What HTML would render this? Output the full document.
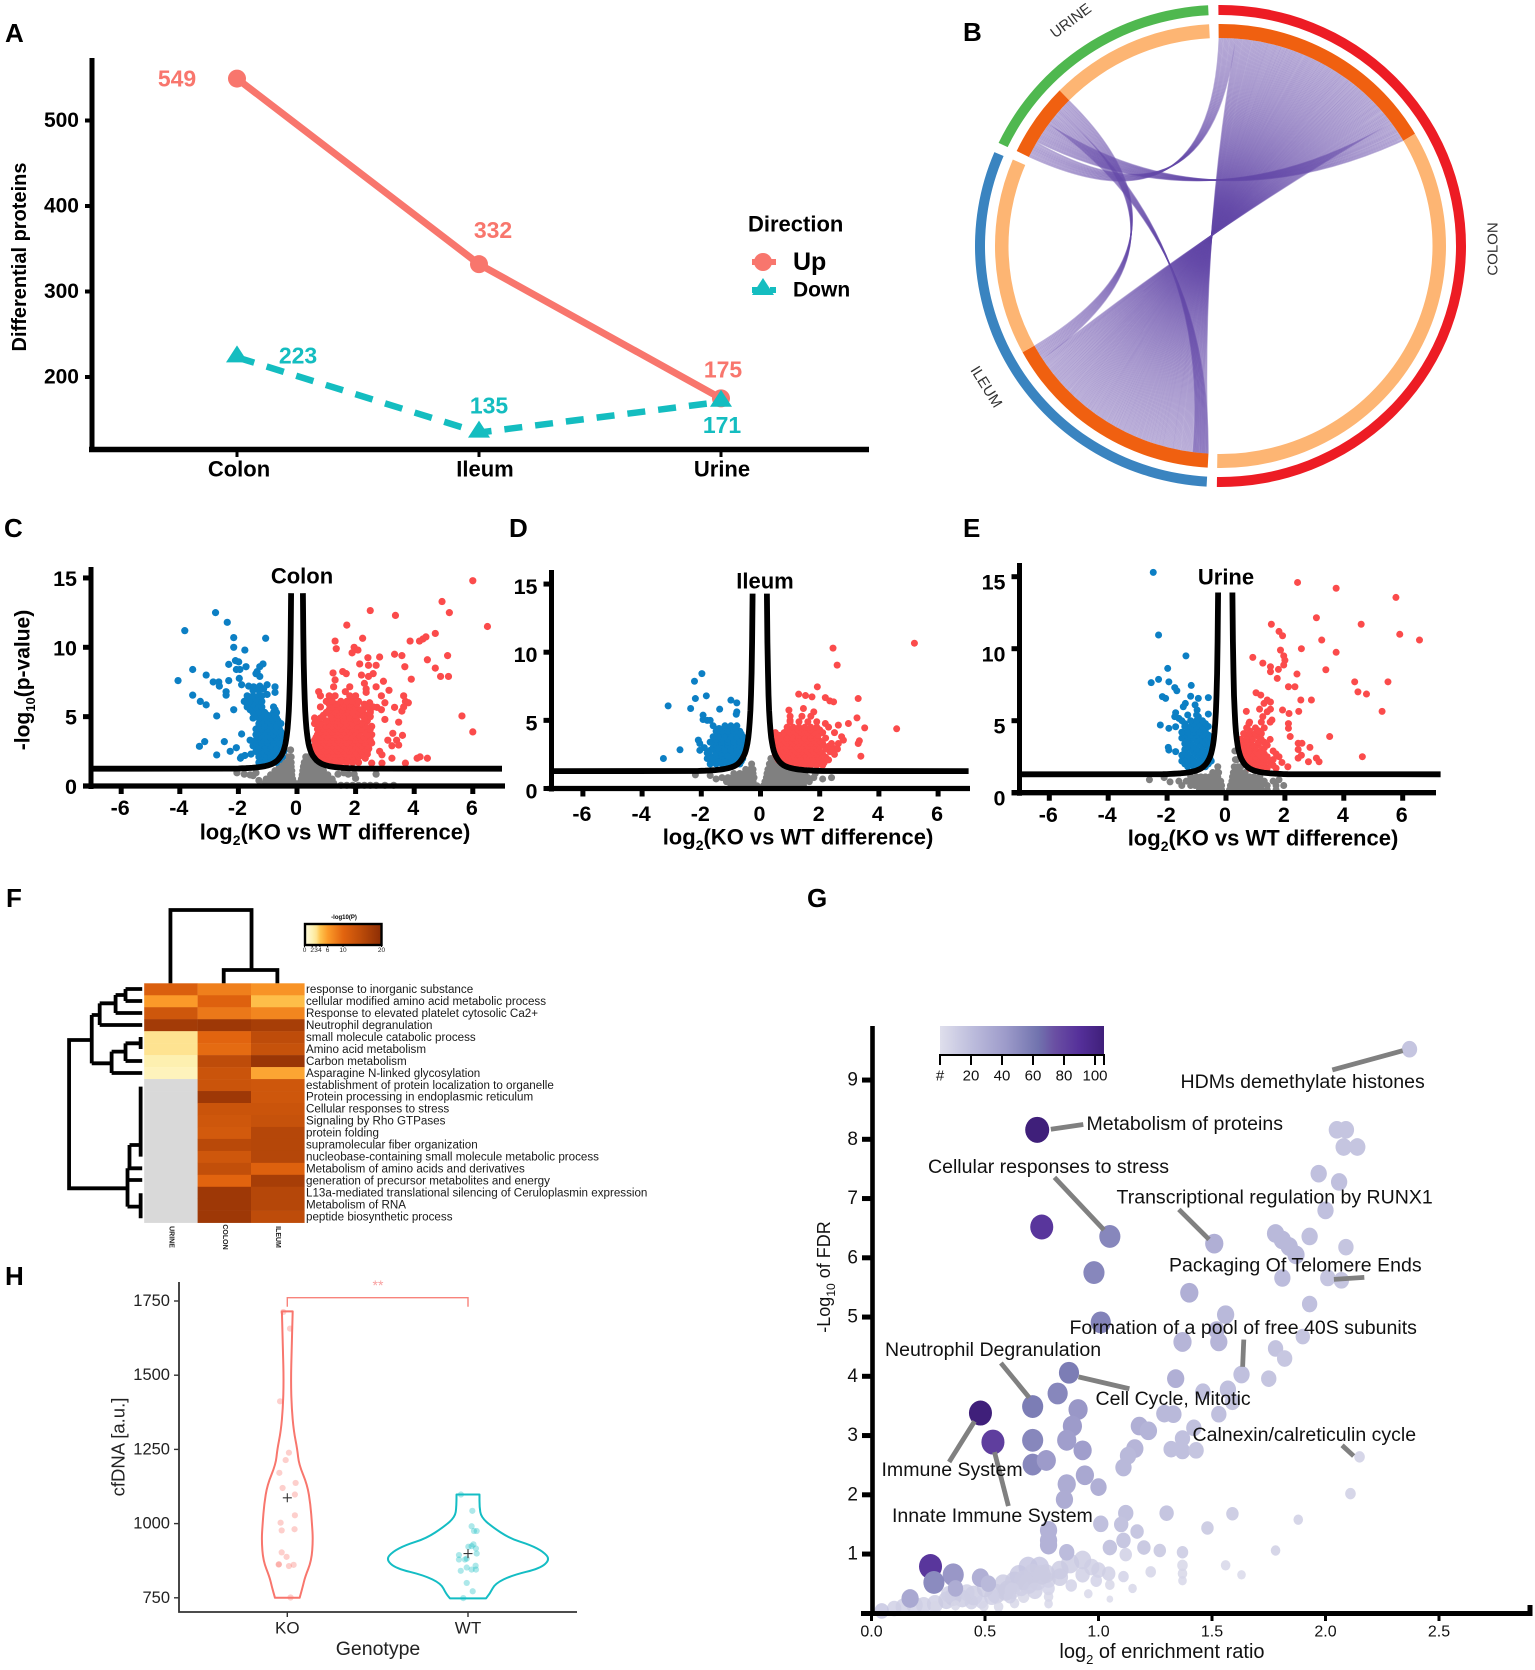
<!DOCTYPE html>
<html lang="en">
<head>
<meta charset="utf-8">
<title>Proteomics multi-panel figure</title>
<style>
html,body{margin:0;padding:0;background:#fff;}
svg{display:block;font-family:"Liberation Sans",sans-serif;}
text{dominant-baseline:central;}
.letter{font-size:26px;font-weight:700;dominant-baseline:auto;fill:#000;}
</style>
</head>
<body>
<svg id="fig" xmlns="http://www.w3.org/2000/svg" width="1535" height="1670" viewBox="0 0 1535 1670">
<rect width="1535" height="1670" fill="#fff"/>
<defs id="defs"></defs>
<text class="letter" x="5" y="42">A</text>
<text class="letter" x="963" y="41">B</text>
<text class="letter" x="4" y="537">C</text>
<text class="letter" x="509" y="537">D</text>
<text class="letter" x="963" y="537">E</text>
<text class="letter" x="6" y="907">F</text>
<text class="letter" x="807" y="907">G</text>
<text class="letter" x="5" y="1285">H</text>

<g id="panel-a">
<text transform="translate(20,257) rotate(-90)" text-anchor="middle" font-size="20" font-weight="700">Differential proteins</text>
<text x="748" y="224" font-size="22" font-weight="700">Direction</text>
<text x="793" y="262" font-size="25" font-weight="700">Up</text>
<text x="793" y="290" font-size="21" font-weight="700">Down</text>
<line x1="752" x2="776" y1="262" y2="262" stroke="#f8766d" stroke-width="6"/>
<circle cx="763" cy="262" r="9" fill="#f8766d"/>
<line x1="752" x2="776" y1="290" y2="290" stroke="#14bdc0" stroke-width="6" stroke-dasharray="6 3"/>
<polygon points="763,278 774,295 752,295" fill="#14bdc0"/>
</g>

<g id="panel-b">
<text transform="translate(1493,249) rotate(-90)" text-anchor="middle" font-size="15" fill="#333">COLON</text>
<text transform="translate(1071,21) rotate(-37)" text-anchor="middle" font-size="15" fill="#333">URINE</text>
<text transform="translate(986,387) rotate(58)" text-anchor="middle" font-size="15" fill="#333">ILEUM</text>
</g>

<g id="panel-c">
<text x="302" y="576" text-anchor="middle" font-size="22" font-weight="700">Colon</text>
<text transform="translate(23,680) rotate(-90)" text-anchor="middle" font-size="21" font-weight="700">-log<tspan baseline-shift="sub" font-size="13">10</tspan>(p-value)</text>
<text x="335" y="832" text-anchor="middle" font-size="22" font-weight="700">log<tspan baseline-shift="sub" font-size="14">2</tspan>(KO vs WT difference)</text>
</g>
<g id="panel-d">
<text x="765" y="581" text-anchor="middle" font-size="22" font-weight="700">Ileum</text>
<text x="798" y="837" text-anchor="middle" font-size="22" font-weight="700">log<tspan baseline-shift="sub" font-size="14">2</tspan>(KO vs WT difference)</text>
</g>
<g id="panel-e">
<text x="1226" y="577" text-anchor="middle" font-size="22" font-weight="700">Urine</text>
<text x="1263" y="838" text-anchor="middle" font-size="22" font-weight="700">log<tspan baseline-shift="sub" font-size="14">2</tspan>(KO vs WT difference)</text>
</g>

<g id="panel-f">
<path transform="translate(50,890) scale(0.3975,0.3333)" vector-effect="non-scaling-stroke" fill="none" stroke="#000" stroke-width="3.8" d="M303 280V60H507V240M437 280V240H572V280"/>
<path transform="translate(50,890) scale(0.3975,0.3333)" vector-effect="non-scaling-stroke" fill="none" stroke="#000" stroke-width="3.8" d="M105 450H48V895H195M105 375V520M105 375H125M105 520H155M125 340V405M125 405H232M125 340H165M165 315V369M165 369H232M165 315H190M190 297V333M190 297H232M190 333H232M155 485V549M155 549H232M155 485H190M190 460V513M190 513H232M190 460H228M228 441V477M195 835V950M195 835H232M200 765V835M200 765H232M195 870H232M195 950H225M228 910V985M228 590V800"/>
<text x="344" y="918" text-anchor="middle" font-size="6" font-weight="700">-log10(P)</text>
</g>

<g id="panel-h">
<text transform="translate(118,1447) rotate(-90)" text-anchor="middle" font-size="18.5" fill="#222">cfDNA [a.u.]</text>
<text x="378" y="1649" text-anchor="middle" font-size="19.5" fill="#222">Genotype</text>
<text x="378" y="1285" text-anchor="middle" font-size="14" fill="#f8a0a0">**</text>
</g>

<g id="panel-g">
<text transform="translate(824,1277) rotate(-90)" text-anchor="middle" font-size="18" fill="#111">-Log<tspan baseline-shift="sub" font-size="12">10</tspan> of FDR</text>
<text x="1162" y="1652" text-anchor="middle" font-size="20" fill="#111">log<tspan baseline-shift="sub" font-size="13">2</tspan> of enrichment ratio</text>
</g>
</svg>

<script>
/* ---------- Panel A data ---------- */
const aCategories=['Colon','Ileum','Urine'];
const aUp=[549,332,175];
const aDown=[223,135,171];
const aYTicks=[200,300,400,500];

/* ---------- Panel B data ---------- */
const sectorNames=['COLON','ILEUM','URINE'];
const sectorCounts=[549,332,187];
const chordSource=[0,0,0,1,1];
const chordTarget=[2,1,2,2,2];
const chordSize=[14,150,18,13,13];
const sectorChordOrder=[[0,1,2],[3,1,4],[0,2,3,4]];

/* ---------- Panels C, D, E data ---------- */
const volcanoXTicks=[-6,-4,-2,0,2,4,6];
const volcanoYTicks=[0,5,10,15];

const colonUpSingles=[[6,14.8],[4.95,13.3],[5.2,12.5],[2.5,12.65],[3.36,12.3],[6.5,11.5],[1.7,11.6],[2.24,10.65],[1.3,10.45],[1.34,9.9],[3.86,10.45],[4.18,10.45],[4.3,10.6],[4.4,10.75],[4.72,11],[1.95,10],[2.08,9.8],[1.88,9.6],[2.42,9.25],[2.82,9.3],[3.33,9.5],[3.58,9.4],[5.14,9.4],[4.45,9.1],[2.14,8.8],[2.44,8.7],[2.7,8.7],[3.68,8.6],[4.72,8.5],[1.23,8.15],[1.56,8.25],[1.68,8.1],[2.2,8],[2.44,7.9],[2.6,8.1],[4.9,7.9],[5.17,7.9],[3.9,7.7],[1.3,7.65],[1.25,7.15],[2.95,7.55],[2.3,7.4],[2.7,7.15],[1.8,7.15],[1.65,6.8],[2.36,7],[2.36,6.75],[3.14,6.9],[.74,6.8],[2.88,6.5],[3.64,6.5],[3.7,6.1],[3.8,6],[3,6],[3.33,5.67],[3.64,5.7],[2.48,6],[2.73,5.67],[2.88,5.5],[3.58,5.4],[5.63,5.05],[3,4.8],[3.47,4.6],[6,3.9],[3.27,3.8],[3.6,3.65],[3.1,3.3],[3.4,3.3],[3.24,2.9],[3.47,2.95],[2.82,2.5],[2.9,2.25],[2.55,1.65],[2.33,2],[3.24,2],[2.9,1.65],[4.1,2],[4.45,2],[3.7,1.65],[4.2,2.1],[2.4,2.3],[2.45,2.7],[2.5,3.1],[2.4,3.5],[2.55,3.7],[2.45,3.9],[2.55,4.3],[2.4,4.7],[2.5,5],[2.35,5.1],[2.25,5.5],[2.5,5.4],[2.3,5.9]];
const colonUpRows=[[1.7,[.9,1.1,1.3,1.5,1.7,1.9,2.1]],[1.9,[.8,1,1.2,1.4,1.6,1.8,2]],[2.1,[.7,.9,1.1,1.3,1.5,1.7,1.9,2.1,2.3]],[2.3,[.65,.85,1.05,1.25,1.45,1.65,1.85,2.05,2.25]],[2.5,[.6,.8,1,1.2,1.4,1.6,1.8,2,2.2,2.4]],[2.7,[.7,.9,1.1,1.3,1.5,1.7,1.9,2.1,2.3]],[2.9,[.6,.8,1,1.2,1.4,1.6,1.8,2,2.2,2.4]],[3.1,[.7,.9,1.1,1.3,1.5,1.7,1.9,2.1,2.3,2.55]],[3.3,[.6,.8,1,1.2,1.4,1.6,1.8,2,2.2,2.5]],[3.5,[.65,.85,1.05,1.25,1.45,1.65,1.85,2.05,2.3]],[3.7,[.7,.9,1.1,1.3,1.5,1.7,1.9,2.1,2.4]],[3.9,[.8,1,1.2,1.4,1.6,1.8,2,2.3]],[4.1,[.7,.9,1.1,1.3,1.5,1.7,1.9,2.2,2.5]],[4.3,[.85,1,1.2,1.4,1.6,1.8,2.05,2.35]],[4.5,[.6,.8,1.1,1.3,1.5,1.7,1.9,2.2]],[4.7,[.7,1,1.2,1.4,1.6,1.8,2.05]],[4.9,[.6,.8,1.2,1.4,1.6,1.8,2,2.3]],[5.1,[.9,1.15,1.4,1.6,1.8,2,2.2]],[5.3,[1,1.3,1.5,1.7,1.9,2.1,2.5]],[5.5,[1.1,1.35,1.55,1.75,1.95,2.2]],[5.7,[.8,1.2,1.4,1.6,1.8,2,2.4,2.6]],[5.9,[1.1,1.35,1.6,1.8,2.05]],[6.1,[1,1.2,1.5,1.7,1.9,2.1]],[6.5,[.8,1.1,1.3,1.8,2]]];
const colonDownSingles=[[-2.78,12.5],[-2.38,11.8],[-3.83,11.2],[-2.16,10.7],[-1.07,10.65],[-2.16,10],[-1.78,9.8],[-2.1,9.04],[-1.99,8.95],[-2.33,8.77],[-1.74,8.6],[-2.07,8.4],[-1.95,8.4],[-3.56,8.4],[-1.16,8.8],[-1.27,8.6],[-1.36,8.25],[-1.4,8.1],[-1.27,7.9],[-3.1,8],[-4.06,7.6],[-2.33,7.6],[-1.97,7.76],[-1.89,7.3],[-2.86,7.5],[-2.67,7.5],[-2.65,7.2],[-1.65,7.2],[-1.48,7.15],[-1.27,7.2],[-1.02,7.3],[-.75,7.15],[-1.14,7],[-.75,6.75],[-1.02,6.6],[-3.56,6.55],[-2.42,6.8],[-2.42,6.55],[-3.3,6.1],[-3.1,5.85],[-2.16,5.5],[-2.74,5.05],[-1.89,3.75],[-3.15,3.2],[-3.33,2.86],[-2.48,3.2],[-2.07,2.76],[-2.28,2.5],[-2.74,2.24],[-1.93,2],[-1.78,2.2],[-1.57,2.3]];
const colonDownRows=[[1.7,[-1.3,-1.1,-.9,-.7]],[1.9,[-1.2,-1,-.8,-.6]],[2.1,[-1.9,-1.3,-1.1,-.9,-.7,-.5]],[2.3,[-1.3,-1.1,-.9,-.7,-.55]],[2.5,[-1.4,-1.2,-1,-.8,-.6,-.45]],[2.7,[-1.3,-1.1,-.9,-.7,-.5]],[2.9,[-1.5,-1.3,-1.1,-.9,-.7,-.5]],[3.1,[-1.4,-1.2,-1,-.8,-.6,-.45]],[3.3,[-1.6,-1.4,-1.2,-1,-.8,-.6,-.45]],[3.5,[-1.3,-1.1,-.9,-.7,-.55]],[3.7,[-1.4,-1.2,-1,-.8,-.6,-.5]],[3.9,[-1.3,-1.1,-.9,-.7,-.55]],[4.1,[-1.4,-1.2,-1,-.8,-.6]],[4.3,[-1.3,-1.1,-.9,-.7]],[4.5,[-1.3,-1.1,-.9,-.7,-.55]],[4.7,[-1.2,-1,-.8,-.65]],[4.9,[-1.5,-1.3,-1.1,-.9,-.7]],[5.1,[-1.4,-1.2,-1,-.75]],[5.3,[-1.5,-1.3,-1.1,-.8,-.7]],[5.5,[-1.6,-1.3,-.75]],[5.7,[-1.7,-1.4,-1.2,-.8]],[5.9,[-1.7,-1.5,-1.3]],[6.1,[-1.8,-1.6,-1.4,-1.2]],[6.3,[-1.6,-1.4]],[6.5,[-1.7,-1.5,-1.3,-1.2]],[6.9,[-1.5,-1.3]]];
const colonNsSingles=[[-2.05,.95],[-1.8,.85],[-1.6,.8],[-1.4,.95],[-1.3,.4],[-1.5,.75],[1.4,.85],[1.6,.95],[1.75,.85],[1.95,.85],[2,.55],[2.7,.85],[1.5,.05],[1.7,.05],[1.9,.05],[2.1,.05],[2.3,.05],[2.5,.05],[2.7,.05],[3,.05],[3.3,.05]];
const colonNsRows=[[.2,[-1.1,-.95,-.8,-.65,-.5,-.35,-.2,-.08,.08,.2,.35,.5,.65,.8,.95,1.1,1.25]],[.5,[-1.05,-.9,-.75,-.6,-.45,-.3,-.15,.15,.3,.45,.6,.75,.9,1.05,1.2]],[.8,[-.9,-.75,-.6,-.45,-.3,-.18,.18,.3,.45,.6,.75,.9,1.05]],[1.1,[-.75,-.6,-.45,-.3,-.18,.2,.32,.45,.6,.75,.9]],[1.4,[-.6,-.45,-.3,-.2,.22,.35,.48,.6,.75]],[1.7,[-.45,-.32,-.2,.25,.38,.5]],[2.1,[-.3,-.2,.3,.4]],[2.6,[-.22]]];

const ileumUpSingles=[[5.2,10.66],[2.45,10.3],[2.59,9.05],[1.92,7.46],[1.29,6.92],[1.52,6.82],[1.74,6.72],[2.19,6.67],[2.34,6.43],[2.47,6.36],[3.3,6.6],[.96,5.75],[1.45,5.87],[1.8,5.62],[3.26,5.18],[1,5],[3.52,4.45],[4.6,4.38],[2.97,4.77],[2.63,4.65],[2.19,4.77],[3.34,3.5],[3.3,3.3],[2.8,3.55],[2.63,3.3],[2.5,2.93],[3.39,2.37],[2.74,3.8]];
const ileumUpRows=[[1.7,[.9,1.1,1.3,1.5,1.7,1.9,2.1]],[1.9,[.7,.9,1.1,1.3,1.5,1.7,1.9,2.15]],[2.1,[.6,.8,1,1.2,1.4,1.6,1.8,2,2.3]],[2.3,[.55,.75,.95,1.15,1.35,1.55,1.75,1.95,2.2]],[2.5,[.5,.7,.9,1.1,1.3,1.5,1.7,1.9,2.1,2.5]],[2.7,[.6,.8,1,1.2,1.4,1.6,1.8,2,2.35]],[2.9,[.5,.7,.9,1.1,1.3,1.5,1.7,1.9,2.2,2.6]],[3.1,[.6,.8,1,1.2,1.4,1.6,1.8,2,2.3]],[3.3,[.5,.7,.9,1.1,1.3,1.5,1.7,1.9,2.1,2.4]],[3.5,[.6,.8,1,1.2,1.4,1.6,1.8,2]],[3.7,[.5,.7,.9,1.1,1.3,1.5,1.7,1.9,2.2]],[3.9,[.65,.9,1.1,1.3,1.5,1.7,1.95]],[4.1,[.5,.8,1,1.2,1.4,1.6,1.8,2.1,2.5]],[4.3,[.9,1.1,1.3,1.5,1.7,2]],[4.5,[.9,1.1,1.3,1.5,1.7,1.9,2.3]],[4.9,[1,1.3,1.6,1.9]],[5.3,[1,1.4,1.7]]];
const ileumDownSingles=[[-1.98,8.43],[-2.23,7.87],[-1.83,6.8],[-2.2,6.6],[-3.12,6.06],[-2.36,5.87],[-1,6.48],[-.8,6.28],[-1.38,5.82],[-.8,5.62],[-.82,5.45],[-1.94,5.38],[-1.94,5.06],[-2.72,2.84],[-3.28,2.2],[-2.1,3.55],[-2.05,3.3],[-2.05,2.8]];
const ileumDownRows=[[1.8,[-1.7,-1.5,-1.3,-1.1,-.9,-.7]],[2,[-1.6,-1.4,-1.2,-1,-.8,-.65]],[2.2,[-1.8,-1.6,-1.4,-1.2,-1,-.8,-.6]],[2.4,[-1.7,-1.5,-1.3,-1.1,-.9,-.7]],[2.6,[-1.8,-1.5,-1.3,-1.1,-.9,-.7,-.55]],[2.8,[-1.7,-1.4,-1.2,-1,-.8,-.65]],[3,[-1.9,-1.6,-1.4,-1.2,-1,-.8,-.6]],[3.2,[-1.5,-1.3,-1.1,-.9,-.7,-.55]],[3.4,[-1.7,-1.5,-1.3,-1.1,-.9,-.7,-.5]],[3.6,[-1.5,-1.3,-1.1,-.9,-.7,-.55]],[3.8,[-1.6,-1.4,-1.2,-1,-.8,-.6]],[4,[-1.4,-1.2,-1,-.8,-.65]],[4.2,[-1.5,-1.3,-1.1,-.9,-.7]],[4.4,[-1.4,-1.1,-.85]],[4.6,[-1.6,-1.2,-1,-.8]],[5,[-1.8,-1.7]]];
const ileumNsSingles=[[-2.2,1],[2.4,.8],[1.85,1.1],[2.1,.7],[-1.5,.7],[-1.7,.95]];
const ileumNsRows=[[.2,[-1,-.85,-.7,-.55,-.4,-.25,-.12,.1,.25,.4,.55,.7,.85,1,1.15,1.3,1.45]],[.5,[-1.15,-1,-.85,-.7,-.55,-.4,-.25,.15,.3,.45,.6,.75,.9,1.05,1.2,1.35,1.5,1.65]],[.8,[-1.3,-1.1,-.95,-.8,-.65,-.5,-.35,-.22,.2,.35,.5,.65,.8,.95,1.1,1.25,1.4,1.6,1.8]],[1.1,[-.9,-.7,-.55,-.4,-.25,.22,.35,.5,.65,.8,.95,1.1,1.3,1.5]],[1.4,[-.5,-.35,-.25,.25,.38,.5,.65,.8]],[1.8,[-.3,.3,.42,.55]],[2.2,[.35,.45]]];

const urineUpSingles=[[2.43,14.6],[3.74,14.2],[5.77,13.56],[3.07,12.15],[1.54,11.7],[4.59,11.7],[1.8,11.2],[1.92,10.9],[5.9,11],[3.25,10.6],[6.57,10.6],[2.56,10],[1.85,9.9],[3.74,9.75],[.91,9.4],[1.96,9.5],[2,9.2],[1.25,9],[1.51,8.75],[1.96,8.87],[3.39,8.54],[1.51,8.4],[1.78,8.56],[2.41,8.24],[1.74,7.94],[4.37,7.7],[5.5,7.7],[2.12,7.36],[2.34,7.36],[4.48,7],[4.77,6.85],[1.02,6.94],[1.18,6.78],[2.54,6.44],[2.9,6.44],[1.4,6.44],[1.51,6.3],[1.29,6.2],[5.3,5.65],[.69,5.65],[1.14,5.8],[1.51,5.8],[1.4,5.62],[2.47,5.65],[1.92,5.74],[2.14,5.5],[1.25,5.28],[1.56,5.05],[.78,4.8],[2.12,4.8],[2.12,4.47],[3.52,3.9],[2.18,3.9],[2.45,3.43],[2.58,3.43],[2.45,3],[2.85,3.15],[2.56,2.6],[2.45,2.4],[3.07,2.4],[2.8,2.15],[3.16,2.15],[4.63,2.5],[2.1,1.8]];
const urineUpRows=[[1.7,[.8,1,1.2,1.4,1.7]],[1.9,[.9,1.1,1.3,1.6]],[2.1,[.7,.9,1.1,1.3,1.5,1.9]],[2.3,[.7,.9,1.1,1.3,1.6]],[2.5,[.6,.8,1,1.2,1.4,1.8]],[2.7,[.7,.9,1.1,1.3,1.7]],[2.9,[.6,.8,1,1.2,1.6]],[3.1,[.6,.8,1,1.3]],[3.3,[.5,.7,.9,1.1,1.4]],[3.5,[.6,.8,1.1,1.3]],[3.7,[.5,.7,.9,1.2,1.5]],[3.9,[.7,.9,1.1]],[4.1,[.6,.8,1,1.2]],[4.3,[.8,1.1]],[4.5,[.7,1,1.3]],[4.9,[.8,1.2,1.5]]];
const urineDownSingles=[[-2.47,15.3],[-2.29,10.95],[-1.36,9.5],[-1.98,8.63],[-2.29,7.87],[-2.54,7.64],[-1.94,7.7],[-1.18,7.45],[-1.74,7.3],[-1.67,7.08],[-2.16,6.67],[-2.05,6.55],[-1.2,6.7],[-.6,6.6],[-.94,6.55],[-1.38,6.2],[-1.05,6.1],[-1.45,5.97],[-.98,5.74],[-1.71,5.55],[-.6,5.46],[-.94,5.28],[-1.6,5.16],[-1.74,5.28],[-2.23,4.7],[-1.94,4.47],[-1.71,4.58],[-1.96,3.15],[-1.94,2.96],[-1.71,2.85]];
const urineDownRows=[[1.8,[-1.3,-1.1,-.9,-.7]],[2,[-1.4,-1.2,-1,-.8,-.6]],[2.2,[-1.5,-1.3,-1.1,-.9,-.7,-.5]],[2.4,[-1.4,-1.2,-.9,-.7,-.55]],[2.6,[-1.5,-1.3,-1,-.8,-.6]],[2.8,[-1.4,-1.1,-.9,-.7]],[3,[-1.4,-1.2,-1,-.8,-.55]],[3.2,[-1.3,-1.1,-.8,-.6]],[3.4,[-1.4,-1.2,-.9,-.7,-.5]],[3.6,[-1.3,-1,-.8,-.6]],[3.8,[-1.5,-1.3,-1.1,-.9,-.7,-.5]],[4,[-1.4,-1.2,-1,-.8,-.6]],[4.2,[-1.5,-1.3,-1.1,-.9,-.7]],[4.4,[-1.3,-1.1,-.9,-.7]],[4.6,[-1.4,-1.2,-1,-.8,-.6]],[4.8,[-1.4,-1.1,-.9,-.7]],[5,[-1.5,-1.2,-1,-.8]],[5.4,[-1.3,-1]]];
const urineNsSingles=[[-2.6,.9],[-2.1,1.05],[-1.9,.75],[1.96,.5],[1.8,.9]];
const urineNsRows=[[.2,[-.9,-.75,-.6,-.45,-.3,-.15,.12,.28,.42,.58,.72,.88,1,1.2,1.4,1.7]],[.5,[-1.5,-1.2,-1.05,-.9,-.75,-.6,-.45,-.3,-.15,.15,.3,.45,.6,.75,.9,1.05,1.2,1.4,1.7]],[.8,[-1.6,-1.35,-1.2,-1.05,-.9,-.75,-.6,-.45,-.3,-.18,.2,.35,.5,.65,.8,.95,1.1,1.3,1.6]],[1.1,[-1.2,-1,-.85,-.7,-.55,-.4,-.28,.22,.35,.5,.65,.8,.95,1.15]],[1.4,[-.45,-.32,-.25,.25,.38,.5,.65]],[1.8,[-.28,.28,.4,.5]],[2.3,[.32,.38]],[2.9,[.3]]];

/* ---------- Panel F data ---------- */
const heatRows=['response to inorganic substance','cellular modified amino acid metabolic process','Response to elevated platelet cytosolic Ca2+','Neutrophil degranulation','small molecule catabolic process','Amino acid metabolism','Carbon metabolism','Asparagine N-linked glycosylation','establishment of protein localization to organelle','Protein processing in endoplasmic reticulum','Cellular responses to stress','Signaling by Rho GTPases','protein folding','supramolecular fiber organization','nucleobase-containing small molecule metabolic process','Metabolism of amino acids and derivatives','generation of precursor metabolites and energy','L13a-mediated translational silencing of Ceruloplasmin expression','Metabolism of RNA','peptide biosynthetic process'];
const heatColumns=['URINE','COLON','ILEUM'];
const heatUrine=[11,6,12.5,17.5,3,3,2,1.5,null,null,null,null,null,null,null,null,null,null,null,null];
const heatColon=[8,10.5,8.5,18,10,9.5,14.5,13,13,18,13,12.5,12,15,12.5,14,10,18,18,18];
const heatIleum=[6.5,4.3,7.5,17,14.5,13.5,18.5,5.5,12.5,12.5,13,13.5,15.5,15.5,15.5,10.5,17,15.5,15.5,14.5];
const heatLegendTicks=[0,2,3,4,6,10,20];

/* ---------- Panel G data: [ratio, fdr, count, size] ---------- */
const gTerms=[[.1,.08,10,7.5],[.14,.11,10,8],[.19,.135,10,8.5],[.23,.135,10,8],[.28,.16,10,8.5],[.33,.22,12,8.5],[.36,.28,12,9],[.4,.25,12,8.5],[.45,.3,12,9.5],[.485,.19,8,6.5],[.55,.33,12,9.5],[.6,.39,12,9.5],[.63,.53,12,10],[.65,.64,14,10],[.69,.78,15,10],[.74,.78,15,10],[.73,.56,12,10],[.69,.5,12,10],[.67,.28,6,6],[.63,.17,6,5],[.56,.11,6,5],[.495,.12,6,5],[.37,.135,6,5],[.28,.12,6,5],[.83,.73,12,9],[.875,.84,12,9.5],[.93,.9,12,9],[.97,.78,10,8],[1,.73,10,7.5],[1.045,.67,10,7],[.93,.65,10,7.5],[.99,.55,8,6],[.88,.47,8,6],[.78,.56,10,7.5],[.78,.42,8,6.5],[.78,.28,6,5],[.78,.16,5,4.5],[.83,.61,12,8.5],[.77,.67,12,9],[.66,.42,10,7.5],[.71,.67,12,9.5],[.67,.56,12,9.5],[.75,.65,12,9.5],[.59,.36,12,8.5],[.53,.28,10,8],[.44,.19,10,7],[.045,.04,15,7.5],[.5,.42,12,8.5],[.58,.5,12,9],[.62,.38,10,8],[.42,.35,10,8],[.34,.32,10,8],[.72,.38,10,8],[.61,.28,10,6.5],
[2.37,9.52,15,8],[.73,8.16,100,12.5],[2.05,8.16,15,8.5],[2.09,8.16,15,8.5],[2.08,7.87,15,8.5],[2.14,7.87,15,8.5],[1.97,7.42,18,8.5],[2.06,7.28,18,8.5],[2,6.8,18,8.5],[.75,6.52,82,12],[1.05,6.36,50,11],[1.51,6.24,28,9.5],[1.78,6.41,22,9],[1.81,6.3,22,9],[1.84,6.19,22,9],[1.87,6.05,22,9],[1.93,6.36,18,8.5],[2.09,6.18,15,8],[1.81,5.66,20,8.5],[2.01,5.66,15,8],[2.07,5.62,15,8],[.98,5.75,50,11],[1.4,5.41,28,9.5],[1.93,5.22,18,8],[1.56,5.04,22,9],[1.01,4.91,52,10.5],[1.52,4.78,24,8.5],[1.37,4.58,24,9.5],[1.53,4.58,24,9],[1.9,4.67,15,7.5],
[1.78,4.47,16,8],[1.82,4.3,14,8],[.87,4.06,55,10.5],[1.63,4.03,18,8.5],[1.75,3.96,15,8],[1.34,3.96,28,9],[.82,3.71,50,10.5],[.71,3.49,55,11],[1.57,3.78,18,8.5],[1.46,3.74,18,8],[1.59,3.57,15,8],[.91,3.44,42,10],[.48,3.38,100,12],[1.29,3.37,22,8.5],[1.33,3.36,22,8.5],[1.53,3.36,18,8],[.885,3.16,40,10],[1.18,3.16,28,9],[1.22,3.08,25,9],[1.42,3.13,17,8],[.86,2.92,38,10],[.71,2.92,50,11],[.535,2.89,78,12],[1.37,2.95,18,8],[1.16,2.78,24,9],[1.32,2.77,18,8],[1.37,2.74,18,8],[1.43,2.75,15,8],[.93,2.75,38,9.5],[1.13,2.66,22,8.5],[2.15,2.64,5,5.5],[.71,2.51,50,10.5],[.77,2.58,40,10],[1.11,2.46,22,8.5],[.94,2.33,32,9.5],[.86,2.18,30,9.5],[1,2.13,28,8.5],[.85,1.92,30,9],[2.11,2.02,5,5.5],[1.12,1.69,17,8],[1.3,1.69,15,7.5],[1.59,1.68,10,6.5],[1.88,1.58,5,5],[1.01,1.51,18,8],[1.1,1.5,16,7.5],[.78,1.4,26,9],[1.48,1.44,10,6.5],[1.17,1.38,14,7],[.78,1.23,26,9],[1.11,1.23,14,7.5],[.78,1.15,26,9],[1.2,1.11,12,7],[1.05,1.11,15,7.5],[1.27,1.06,10,6.5],[1.37,1.03,8,6],[1.78,1.06,5,5],[1.12,.99,10,6.5],[.86,1.03,20,8],[.26,.79,82,12],[1.37,.81,6,5.5],[1.56,.81,5,5],[1.23,.7,7,5.5],[1.63,.65,4,4.5],[1.37,.67,6,5],[1.37,.55,5,4.5],[1.11,.62,8,5.5],[1.15,.42,5,4.5],[1.05,.48,6,5],[1.05,.24,3,3.5],[.955,.33,4,4.5],[.36,.65,42,11],[.275,.52,48,11],[.37,.42,30,8],[.17,.25,32,9],[.48,.6,28,9],[.515,.5,22,8]];
const gLabels=['HDMs demethylate histones','Metabolism of proteins','Cellular responses to stress','Transcriptional regulation by RUNX1','Packaging Of Telomere Ends','Formation of a pool of free 40S subunits','Neutrophil Degranulation','Cell Cycle, Mitotic','Calnexin/calreticulin cycle','Immune System','Innate Immune System'];
const gLeaderStarts=[[2.03,9.17],[.933,8.25],[.806,7.357],[1.354,6.817],[2.171,5.67],[1.64,4.62],[.57,4.225],[1.136,3.79],[2.073,2.835],[.342,2.554],[.603,1.81]];
const gLeaderEnds=[[2.34,9.495],[.79,8.17],[1.024,6.47],[1.487,6.31],[2.037,5.636],[1.635,4.16],[.695,3.64],[.912,3.99],[2.124,2.655],[.454,3.24],[.542,2.72]];
const gXTicks=[0,.5,1,1.5,2,2.5];
const gYTicks=[1,2,3,4,5,6,7,8,9];
const gLegendTicks=[0,20,40,60,80,100];
const gLegendTickLabels=['#','20','40','60','80','100'];

/* ---------- Panel H data ---------- */
const hCategories=['KO','WT'];
const hYTicks=[750,1000,1250,1500,1750];
const koDensityValues=[750,787,820,875,945,1000,1065,1130,1200,1250,1312,1390,1480,1590,1715];
const koDensity=[.48,.6,.69,.94,1,.96,.9,.78,.45,.39,.25,.17,.14,.17,.21];
const wtDensityValues=[748,765,798,826,849,879,905,928,950,990,1022,1056,1098];
const wtDensity=[.22,.27,.33,.54,.88,1,.92,.76,.51,.29,.16,.14,.14];
const koValues=[1713,1657,1412,1239,1214,1171,1137,1120,1098,1028,1003,977,981,903,888,863,862,857,861,751];
const koJitter=[-.022,.015,-.04,.009,-.009,-.044,.046,-.026,.042,.042,-.037,-.031,.04,-.031,-.004,-.046,-.048,.009,.035,.018];
const wtValues=[1098,1043,991,975,975,930,922,924,916,899,894,879,879,882,858,852,845,845,841,800,772,749];
const wtJitter=[-.039,.024,.02,.033,.048,.03,.002,.02,.044,.048,-.05,-.05,-.017,-.007,.042,-.007,.02,.044,-.04,-.007,.026,-.026];
const hMeans=[1087,899];

/* ---------- helpers ---------- */
const NS='http://www.w3.org/2000/svg';
function mk(parent,tag,attrs,txt){
  const e=document.createElementNS(NS,tag);
  for(const k in attrs)e.setAttribute(k,attrs[k]);
  if(txt!==undefined)e.textContent=txt;
  parent.appendChild(e);
  return e;
}
function hex2rgb(h){return [parseInt(h.slice(1,3),16),parseInt(h.slice(3,5),16),parseInt(h.slice(5,7),16)];}
function rampColor(stops,v){
  if(v<=stops[0][0])return stops[0][1];
  for(let i=1;i<stops.length;i++){
    if(v<=stops[i][0]){
      const t=(v-stops[i-1][0])/(stops[i][0]-stops[i-1][0]);
      const a=hex2rgb(stops[i-1][1]),b=hex2rgb(stops[i][1]);
      return 'rgb('+a.map((c,j)=>Math.round(c+(b[j]-c)*t)).join(',')+')';
    }
  }
  return stops[stops.length-1][1];
}
const expandRows=rows=>rows.flatMap(r=>r[1].map(x=>[x,r[0]]));
const defs=document.getElementById('defs');

/* ---------- Panel A ---------- */
(function(){
  const g=document.getElementById('panel-a');
  const ax=i=>237+i*242, ay=v=>120.5+(500-v)*0.855;
  const UP='#f8766d',DOWN='#14bdc0';
  const upLine=mk(g,'polyline',{points:aUp.map((v,i)=>ax(i)+','+ay(v)).join(' '),fill:'none',stroke:UP,'stroke-width':7});
  
  
  const downLine=mk(g,'polyline',{points:aDown.map((v,i)=>ax(i)+','+ay(v)).join(' '),fill:'none',stroke:DOWN,'stroke-width':6.5,'stroke-dasharray':'18 13'});
  
  
  const upDx=[-60,14,2],upDy=[0,-34,-29],downDx=[61,10,1],downDy=[-2,-27,23];
  aUp.forEach((v,i)=>{
    const c=mk(g,'circle',{cx:ax(i),cy:ay(v),r:9,fill:UP});
    
    
    const t=mk(g,'text',{x:ax(i)+upDx[i],y:ay(v)+upDy[i],'text-anchor':'middle','font-size':23,'font-weight':700,fill:UP},v);
    
    
  });
  aDown.forEach((v,i)=>{
    const x=ax(i),y=ay(v);
    const p=mk(g,'polygon',{points:x+','+(y-12)+' '+(x+11)+','+(y+5)+' '+(x-11)+','+(y+5),fill:DOWN});
    
    
    const t=mk(g,'text',{x:x+downDx[i],y:y+downDy[i],'text-anchor':'middle','font-size':23,'font-weight':700,fill:DOWN},v);
    
    
  });
  const yAxis=mk(g,'line',{x1:92,x2:92,y1:58,y2:452,stroke:'#000','stroke-width':5});
  
  
  const xAxis=mk(g,'line',{x1:89,x2:869,y1:449.5,y2:449.5,stroke:'#000','stroke-width':5.5});
  
  
  aYTicks.forEach(v=>{
    const l=mk(g,'line',{x1:85,x2:92,y1:ay(v),y2:ay(v),stroke:'#000','stroke-width':4});
    
    
    const t=mk(g,'text',{x:79,y:ay(v),'text-anchor':'end','font-size':21,'font-weight':700},v);
    
    
  });
  aCategories.forEach((c,i)=>{
    const l=mk(g,'line',{x1:ax(i),x2:ax(i),y1:449,y2:457,stroke:'#000','stroke-width':3});
    
    
    const t=mk(g,'text',{x:ax(i)+[2,6,1][i],y:469,'text-anchor':'middle','font-size':22,'font-weight':700},c);
    
    
  });
})();

/* ---------- Panel B ---------- */
(function(){
  const g=document.getElementById('panel-b');
  const cx=1220.5,cy=246,gap=2.4,rot=-.5;
  const ctrlX=[1211,1200.5,1211,1211,1211],ctrlY=[240,234,228,240,240];
  const total=sectorCounts.reduce((a,b)=>a+b,0);
  const unit=(360-gap*sectorCounts.length)/total;
  const starts=[];let acc=rot;
  sectorCounts.forEach(c=>{starts.push(acc);acc+=c*unit+gap;});
  const pt=(deg,rx,ry)=>{const a=deg*Math.PI/180;return [cx+rx*Math.sin(a),cy-ry*Math.cos(a)];};
  function band(a0,a1,rxo,ryo,rxi,ryi){
    const f=(a1-a0)>180?1:0;
    const A=pt(a0,rxo,ryo),B=pt(a1,rxo,ryo),C=pt(a1,rxi,ryi),D=pt(a0,rxi,ryi);
    return 'M'+A[0]+' '+A[1]+'A'+rxo+' '+ryo+' 0 '+f+' 1 '+B[0]+' '+B[1]+'L'+C[0]+' '+C[1]+'A'+rxi+' '+ryi+' 0 '+f+' 0 '+D[0]+' '+D[1]+'Z';
  }
  const outerColors=['#ed1c24','#3a84c0','#4fb84f'];
  const chordPos=chordSize.map(()=>({}));
  const used=sectorCounts.map(()=>0);
  sectorChordOrder.forEach((order,s)=>{
    order.forEach(ci=>{
      chordPos[ci][s]=used[s];
      used[s]+=chordSize[ci];
    });
  });
  chordSize.forEach((n,ci)=>{
    const s=chordSource[ci],t=chordTarget[ci];
    const grp=mk(g,'g',{fill:'none',stroke:'#6548a8','stroke-width':1.35,'stroke-opacity':.44});
    
    
    let d='';
    /* colon-ileum strands fan across the ileum arc up to its last band */
    const targetStart=ci===1?0:chordPos[ci][t];
    const targetStep=ci===1?(chordPos[ci][t]+n)/n:1;
    for(let k=0;k<n;k++){
      const a=starts[s]+(chordPos[ci][s]+k+.5)*unit;
      const b=starts[t]+(targetStart+(k+.5)*targetStep)*unit;
      const P=pt(a,212,208),Q=pt(b,212,208);
      d+='<path d="M'+P[0].toFixed(1)+' '+P[1].toFixed(1)+'Q'+ctrlX[ci]+' '+ctrlY[ci]+' '+Q[0].toFixed(1)+' '+Q[1].toFixed(1)+'"/>';
    }
    grp.innerHTML=d;
  });
  sectorNames.forEach((nm,s)=>{
    const a0=starts[s],a1=a0+sectorCounts[s]*unit,am=a0+used[s]*unit;
    const o=mk(g,'path',{d:band(a0,a1,245.5,241,235.5,231),fill:outerColors[s]});
    
    
    const sh=mk(g,'path',{d:band(a0,am,225.5,222,212,208),fill:'#f06010'});
    
    
    const un=mk(g,'path',{d:band(am,a1,225.5,222,212,208),fill:'#fdb573'});
    
    
  });
})();

/* ---------- Panels C, D, E ---------- */
function volcano(id,cfg,upS,upR,downS,downR,nsS,nsR){
  const g=document.getElementById(id);
  const X=v=>cfg.x0+v*cfg.xs, Y=v=>cfg.y0-v*cfg.ys;
  const first=g.firstChild;
  const layer=document.createElementNS(NS,'g');
  
  
  g.insertBefore(layer,first);
  nsS.concat(expandRows(nsR)).forEach(p=>{
    const c=mk(layer,'circle',{cx:X(p[0]),cy:Y(p[1]),r:cfg.r,fill:'#808080'});
    
    
  });
  downS.concat(expandRows(downR)).forEach(p=>{
    const c=mk(layer,'circle',{cx:X(p[0]),cy:Y(p[1]),r:cfg.r,fill:'#0c7fc4'});
    
    
  });
  upS.concat(expandRows(upR)).forEach(p=>{
    const c=mk(layer,'circle',{cx:X(p[0]),cy:Y(p[1]),r:cfg.r,fill:'#fb4b4b'});
    
    
  });
  /* significance threshold curve: t0 + c/(|x|-s0)^1.5, tapering flat in the tails */
  function side(sign){
    const edge=sign<0?(cfg.ax-cfg.x0)/cfg.xs:(cfg.thrEnd-cfg.x0)/cfg.xs;
    const pts=[];
    let d=cfg.s0+Math.pow(cfg.c/(cfg.yTop-cfg.t0),2/3);
    while(d<2.2){
      const xv=sign*d+cfg.shift;
      const taper=d<.6?1:Math.max(0,1-(d-.6)/1.6);
      pts.push(X(xv).toFixed(1)+','+Y(cfg.t0+taper*cfg.c/Math.pow(d-cfg.s0,1.5)).toFixed(1));
      d+=Math.max(.012,d*.07);
    }
    pts.push(X(edge).toFixed(1)+','+Y(cfg.t0).toFixed(1));
    const l=mk(layer,'polyline',{points:pts.join(' '),fill:'none',stroke:'#000','stroke-width':5.8,'stroke-linejoin':'round'});
    
    
  }
  side(-1);side(1);
  const ya=mk(layer,'line',{x1:cfg.ax,x2:cfg.ax,y1:cfg.top,y2:cfg.y0+3,stroke:'#000','stroke-width':5});
  
  
  const xa=mk(layer,'line',{x1:cfg.xStart,x2:cfg.xEnd,y1:cfg.y0,y2:cfg.y0,stroke:'#000','stroke-width':5.3});
  
  
  volcanoXTicks.forEach(v=>{
    const l=mk(layer,'line',{x1:X(v),x2:X(v),y1:cfg.y0,y2:cfg.y0+8,stroke:'#000','stroke-width':5});
    
    
    const t=mk(layer,'text',{x:X(v)-1,y:cfg.xLabelY,'text-anchor':'middle','font-size':21.5,'font-weight':700},v);
    
    
  });
  volcanoYTicks.forEach(v=>{
    const l=mk(layer,'line',{x1:cfg.ax-8,x2:cfg.ax,y1:Y(v),y2:Y(v),stroke:'#000','stroke-width':5});
    
    
    const t=mk(layer,'text',{x:cfg.ax-14,y:Y(v)+cfg.yLabelDy,'text-anchor':'end','font-size':21.5,'font-weight':700},v);
    
    
  });
}
volcano('panel-c',{x0:297,xs:29.3,y0:786,ys:13.87,ax:91,top:567,xStart:83,xEnd:505,thrEnd:502,r:3.6,c:.25,s0:.127,t0:1.25,yTop:13.9,shift:0,xLabelY:808,yLabelDy:1},colonUpSingles,colonUpRows,colonDownSingles,colonDownRows,colonNsSingles,colonNsRows);
volcano('panel-d',{x0:760.5,xs:29.6,y0:788.5,ys:13.63,ax:551.5,top:570,xStart:547.5,xEnd:970,thrEnd:968.6,r:3.5,c:.25,s0:.17,t0:1.28,yTop:14.3,shift:-.025,xLabelY:814,yLabelDy:3},ileumUpSingles,ileumUpRows,ileumDownSingles,ileumDownRows,ileumNsSingles,ileumNsRows);
volcano('panel-e',{x0:1226,xs:29.45,y0:792.7,ys:14.4,ax:1019.5,top:563,xStart:1011.5,xEnd:1436,thrEnd:1440.6,r:3.5,c:.25,s0:.17,t0:1.28,yTop:13.9,shift:-.025,xLabelY:815,yLabelDy:6},urineUpSingles,urineUpRows,urineDownSingles,urineDownRows,urineNsSingles,urineNsRows);

/* ---------- Panel F ---------- */
(function(){
  const g=document.getElementById('panel-f');
  const stops=[[0,'#fffce0'],[2,'#fdf0b0'],[3,'#fee391'],[4,'#fec44f'],[6,'#fb9a29'],[10,'#e2640f'],[14,'#c24f0a'],[20,'#8c2d04']];
  const hx=c=>144.2+c*53.4, hy=r=>983.3+r*11.97;
  const cols=[heatUrine,heatColon,heatIleum];
  cols.forEach((vals,c)=>{
    vals.forEach((v,r)=>{
      const cell=mk(g,'rect',{x:hx(c),y:hy(r),width:53.6,height:12.2,fill:v===null?'#d9d9d9':rampColor(stops,v)});
      
      
    });
    const t=mk(g,'text',{transform:'translate('+(hx(c)+26.7)+',1237) rotate(90)','text-anchor':'middle','font-size':7,'font-weight':700,fill:'#222'},heatColumns[c]);
    
    
  });
  heatRows.forEach((name,r)=>{
    const t=mk(g,'text',{x:306,y:hy(r)+6.2,'font-size':11.62,fill:'#1a1a1a'},name);
    
    
  });
  const grad=mk(defs,'linearGradient',{id:'heatGrad',x1:0,x2:1,y1:0,y2:0});
  stops.forEach(s=>{mk(grad,'stop',{offset:s[0]/20,'stop-color':s[1]});});
  const bar=mk(g,'rect',{x:305,y:924,width:76.5,height:21,fill:'url(#heatGrad)',stroke:'#000','stroke-width':2.4});
  
  
  heatLegendTicks.forEach(v=>{
    const x=304.5+3.85*v;
    const l=mk(g,'line',{x1:x,x2:x,y1:945,y2:947,stroke:'#000','stroke-width':1});
    
    
    const t=mk(g,'text',{x:x,y:950.5,'text-anchor':'middle','font-size':6.5,fill:'#222'},v);
    
    
  });
})();

/* ---------- Panel G ---------- */
(function(){
  const g=document.getElementById('panel-g');
  const X=v=>871.5+v*227, Y=v=>1613.3-v*59.25;
  const stops=[[0,'#dfdfec'],[20,'#bcbcdc'],[40,'#9d9bca'],[60,'#7173ae'],[70,'#6a4fa3'],[85,'#55309a'],[100,'#3f1f7a']];
  gTerms.forEach(p=>{
    const c=mk(g,'ellipse',{cx:X(p[0]),cy:Y(p[1]),rx:p[3]*.96,ry:p[3]*1.04,fill:rampColor(stops,p[2]),'fill-opacity':p[2]<=15&&p[1]<1?.82:1});
    
    
  });
  gLeaderStarts.forEach((s,i)=>{
    const e=gLeaderEnds[i];
    const l=mk(g,'line',{x1:X(s[0]),y1:Y(s[1]),x2:X(e[0]),y2:Y(e[1]),stroke:'#808080','stroke-width':4.8});
    
    
  });
  const labelLeft=[1180.5,1086.5,928,1116.5,1169,1069.5,885,1095.5,1192.5,881.5,892];
  const labelMidY=[1082,1124,1167,1197.7,1265.7,1328,1350,1399,1435,1470,1516];
  gLabels.forEach((s,i)=>{
    const t=mk(g,'text',{x:labelLeft[i],y:labelMidY[i],'font-size':19.55,fill:'#111'},s);
    
    
  });
  const ya=mk(g,'line',{x1:872.5,x2:872.5,y1:1026,y2:1616,stroke:'#000','stroke-width':4.6});
  
  
  const xa=mk(g,'path',{d:'M861 1613.5H1530V1605',fill:'none',stroke:'#000','stroke-width':5});
  
  
  gYTicks.forEach(v=>{
    const l=mk(g,'line',{x1:862,x2:872,y1:Y(v),y2:Y(v),stroke:'#000','stroke-width':5});
    
    
    const t=mk(g,'text',{x:858,y:Y(v),'text-anchor':'end','font-size':19,fill:'#111'},v);
    
    
  });
  gXTicks.forEach(v=>{
    const l=mk(g,'line',{x1:X(v),x2:X(v),y1:1613,y2:1621,stroke:'#000','stroke-width':3});
    
    
    const t=mk(g,'text',{x:X(v),y:1632,'text-anchor':'middle','font-size':16,fill:'#111'},v.toFixed(1));
    
    
  });
  const grad=mk(defs,'linearGradient',{id:'countGrad',x1:0,x2:1,y1:0,y2:0});
  stops.forEach(s=>{mk(grad,'stop',{offset:s[0]/100,'stop-color':s[1]});});
  const bar=mk(g,'rect',{x:940,y:1026,width:164,height:28,fill:'url(#countGrad)'});
  
  
  const base=mk(g,'line',{x1:939,x2:1105,y1:1055,y2:1055,stroke:'#000','stroke-width':2});
  
  
  const tickEnd=mk(g,'line',{x1:1104,x2:1104,y1:1055,y2:1065,stroke:'#000','stroke-width':2});
  
  
  gLegendTicks.forEach((v,i)=>{
    const x=940+v*1.55;
    const l=mk(g,'line',{x1:x,x2:x,y1:1055,y2:1065,stroke:'#000','stroke-width':2});
    
    
    const t=mk(g,'text',{x:x,y:1076,'text-anchor':'middle','font-size':15,fill:'#111'},gLegendTickLabels[i]);
    
    
  });
})();

/* ---------- Panel H ---------- */
(function(){
  const g=document.getElementById('panel-h');
  const Y=v=>1301+(1750-v)*0.2968;
  const X=i=>287.3+i*180.7;
  const RED='#f8766d',TEAL='#14bdc4';
  function smooth(pts){
    let d='M'+pts[0][0]+' '+pts[0][1];
    for(let i=1;i<pts.length-1;i++){
      const mx=(pts[i][0]+pts[i+1][0])/2,my=(pts[i][1]+pts[i+1][1])/2;
      d+='Q'+pts[i][0]+' '+pts[i][1]+' '+mx+' '+my;
    }
    d+='L'+pts[pts.length-1][0]+' '+pts[pts.length-1][1];
    return d;
  }
  function violin(i,vals,dens,maxW,color,name){
    const right=vals.map((v,k)=>[X(i)+dens[k]*maxW,Y(v)]);
    const left=vals.map((v,k)=>[X(i)-dens[k]*maxW,Y(v)]).reverse();
    const d=smooth(right)+'L'+left[0][0]+' '+left[0][1]+smooth(left).replace(/^M[^QL]+/,'')+'Z';
    const p=mk(g,'path',{d:d,fill:'none',stroke:color,'stroke-width':2,'stroke-linejoin':'round'});
    
    
  }
  violin(0,koDensityValues,koDensity,25.7,RED,'violin-ko');
  violin(1,wtDensityValues,wtDensity,82,TEAL,'violin-wt');
  koValues.forEach((v,k)=>{
    const c=mk(g,'circle',{cx:X(0)+koJitter[k]*181,cy:Y(v),r:3.1,fill:RED,'fill-opacity':.35});
    
    
  });
  wtValues.forEach((v,k)=>{
    const c=mk(g,'circle',{cx:X(1)+wtJitter[k]*181,cy:Y(v),r:3.1,fill:TEAL,'fill-opacity':.35});
    
    
  });
  hMeans.forEach((v,i)=>{
    const m=mk(g,'path',{d:'M'+(X(i)-4.5)+' '+Y(v)+'h9M'+X(i)+' '+(Y(v)-4.5)+'v9',stroke:'#333','stroke-width':1.1,fill:'none'});
    
    
  });
  const br=mk(g,'path',{d:'M'+X(0)+' 1306.7V1297.7H'+X(1)+'V1306.7',fill:'none',stroke:'#f8837b','stroke-width':1.4});
  
  
  const ax=mk(g,'path',{d:'M179 1282V1612H577',fill:'none',stroke:'#333','stroke-width':1.8});
  
  
  hYTicks.forEach(v=>{
    const l=mk(g,'line',{x1:174,x2:179,y1:Y(v),y2:Y(v),stroke:'#333','stroke-width':1.4});
    
    
    const t=mk(g,'text',{x:170,y:Y(v),'text-anchor':'end','font-size':16.5,fill:'#222'},v);
    
    
  });
  hCategories.forEach((c,i)=>{
    const l=mk(g,'line',{x1:X(i),x2:X(i),y1:1612,y2:1617,stroke:'#333','stroke-width':1.4});
    
    
    const t=mk(g,'text',{x:X(i),y:1628,'text-anchor':'middle','font-size':17,fill:'#222'},c);
    
    
  });
})();
</script>
</body>
</html>
